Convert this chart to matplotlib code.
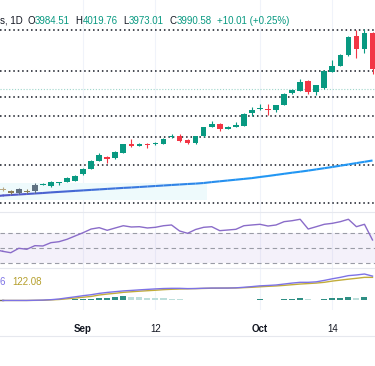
import matplotlib
matplotlib.use("Agg")
import matplotlib.pyplot as plt
import numpy as np
from matplotlib.collections import LineCollection
from matplotlib.patches import Rectangle
from matplotlib.lines import Line2D
from matplotlib.colors import to_rgb

plt.rcParams['font.family'] = ['Liberation Sans', 'DejaVu Sans']

W, H = 375, 366

# ==================== data ====================
opens = [3940.3, 3938.6, 3938.6, 3939.0, 3939.9, 3942.8, 3942.2, 3943.8, 3944.4, 3944.9,
         3948.1, 3950.7, 3954.9, 3956.6, 3956.1, 3958.9, 3963.1, 3962.4, 3963.4, 3963.1,
         3963.4, 3966.6, 3967.4, 3965.1, 3963.6, 3967.0, 3971.9, 3973.1, 3970.7, 3971.9,
         3972.3, 3978.6, 3980.5, 3980.7, 3980.1, 3982.7, 3988.6, 3989.9, 3994.7, 3989.4,
         3991.1, 3999.4, 4002.2, 4007.5, 4017.2, 4010.6, 4018.7]
highs = [3941.7, 3940.2, 3941.0, 3940.7, 3943.5, 3943.5, 3944.7, 3944.2, 3946.5, 3947.7,
         3951.0, 3955.2, 3958.6, 3957.0, 3959.7, 3963.2, 3965.6, 3963.7, 3963.7, 3964.0,
         3966.0, 3968.2, 3968.0, 3965.5, 3967.2, 3971.7, 3974.7, 3973.5, 3972.2, 3974.4,
         3978.5, 3981.5, 3983.1, 3983.1, 3982.7, 3988.5, 3990.7, 3995.6, 3995.0, 3992.7,
         4000.2, 4005.2, 4008.0, 4017.2, 4020.2, 4020.6, 4019.0]
lows = [3939.7, 3938.2, 3938.2, 3938.7, 3938.7, 3942.5, 3941.7, 3942.7, 3944.0, 3944.5,
        3947.7, 3950.5, 3954.7, 3953.6, 3955.7, 3958.7, 3961.7, 3962.0, 3961.4, 3962.7,
        3963.2, 3966.2, 3964.2, 3963.1, 3963.2, 3966.7, 3971.6, 3969.7, 3970.5, 3971.6,
        3972.0, 3977.2, 3980.2, 3977.7, 3979.4, 3982.5, 3988.2, 3989.7, 3988.2, 3987.7,
        3990.7, 3999.2, 4002.0, 4007.2, 4006.0, 4008.6, 3998.2]
closes = [3940.7, 3939.7, 3940.6, 3939.9, 3942.7, 3943.2, 3944.2, 3944.2, 3946.1, 3947.2,
          3950.6, 3954.9, 3957.7, 3955.9, 3959.4, 3963.1, 3962.2, 3963.4, 3962.7, 3963.7,
          3965.7, 3967.2, 3964.6, 3963.9, 3967.0, 3971.5, 3973.1, 3970.6, 3971.9, 3972.7,
          3978.2, 3980.2, 3980.7, 3980.0, 3982.5, 3988.1, 3990.2, 3994.4, 3989.4, 3992.6,
          3999.9, 4002.2, 4007.7, 4016.9, 4010.6, 4018.7, 4000.7]

ma_values = [3937.45, 3937.7, 3937.95, 3938.2, 3938.45, 3938.7, 3939.0, 3939.25, 3939.5, 3939.75,
             3940.0, 3940.25, 3940.5, 3940.75, 3941.0, 3941.25, 3941.45, 3941.7, 3941.95, 3942.2,
             3942.45, 3942.7, 3942.95, 3943.2, 3943.4, 3943.7, 3944.15, 3944.55, 3944.95, 3945.35,
             3945.75, 3946.15, 3946.7, 3947.2, 3947.75, 3948.3, 3948.85, 3949.35, 3949.9, 3950.5,
             3951.1, 3951.7, 3952.35, 3953.0, 3953.65, 3954.3, 3954.95]

rsi_values = [45.6, 43.7, 49.6, 48.3, 53.1, 52.7, 57.1, 58.4, 61.6, 66.0,
              70.4, 75.3, 77.1, 73.6, 76.7, 79.7, 78.0, 78.4, 76.7, 77.6,
              79.7, 80.7, 72.7, 69.6, 74.7, 77.6, 78.4, 73.1, 74.0, 74.9,
              79.7, 80.7, 81.6, 79.3, 80.7, 85.1, 86.4, 88.3, 75.3, 78.4,
              81.6, 82.9, 85.1, 88.3, 78.4, 81.6, 60.7]

macd_values = [0, 0, 0, 0, 1, 2, 4, 7.5, 13.5, 19,
               25, 30, 37, 42, 46, 50, 52.5, 55.5, 58, 60.5,
               62.5, 63.5, 63.5, 62, 62.5, 64, 65, 65, 65, 66,
               69, 72.5, 76.5, 78.5, 81, 86, 91, 95, 95, 97.5,
               105, 113.5, 121, 130, 133.5, 138.5, 127.5]
signal_values = [0, 0, 0, 0, 0.5, 1, 3, 5, 8.5, 12.5,
                 17, 21, 28.5, 33.5, 37.5, 42.5, 45.5, 48.5, 51, 53.5,
                 56.5, 58.5, 60, 61, 62, 63, 64, 64.5, 65, 65.5,
                 67, 69, 71.5, 74, 76, 79, 82.5, 86, 88.5, 91,
                 95, 101.5, 106.5, 111.5, 116, 121, 121]
hist_values = [0, 0, 0, 0, 0, 0, 0, 0, 5, 6.5,
               8.5, 10, 11.5, 13.5, 17.5, 22.5, 20, 17.5, 15, 13.5,
               11.5, 10, 6.5, 3, 2.5, 4, 5, 2.5, 1.5, 1.5,
               4, 5, 6, 4, 3, 6.5, 8.5, 11.5, 6.5, 5,
               9, 11, 14, 20, 15, 18.5, 5]

levels = [4020.2, 3999.7, 3986.7, 3977.2, 3966.7, 3952.7, 3933.7]
last_close = 3990.58
box_start, box_end = -0.4, 25.4
box_low, box_high = 3935.2, 3943.7

tick_pos = [10, 19, 32, 41]
tick_labels = ["Sep", "12", "Oct", "14"]

header_parts = [("s, 1D", "#131722"), ("O", "#131722"), ("3984.51", "#089981"),
                ("H", "#131722"), ("4019.76", "#089981"), ("L", "#131722"),
                ("3973.01", "#089981"), ("C", "#131722"), ("3990.58", "#089981"),
                ("+10.01 (+0.25%)", "#089981")]
header_x = [0, 27.3, 34.3, 75.5, 82.8, 123.0, 128.5, 169.5, 176.5, 217.3]

# ==================== style ====================
UP = "#089981"
DOWN = "#f23645"
faded = {0: "#b7a783", 1: "#8c7d55", 2: "#5f6e7e", 3: "#8a8256", 4: "#607182"}
GRID = "#f0f3fa"
SEP = "#e6e8ee"

n = len(closes)
idx = np.arange(n)
xlim = (-0.336, 46.31)


def pane(top_px, bottom_px):
    ax = fig.add_axes([0, 1 - bottom_px / H, 1, (bottom_px - top_px) / H])
    ax.set_xlim(*xlim)
    for s in ax.spines.values():
        s.set_visible(False)
    ax.set_yticks([])
    ax.set_xticks([])
    ax.set_facecolor("none")
    for t in tick_pos:
        ax.axvline(t, color=GRID, lw=0.8, zorder=0)
    return ax


fig = plt.figure(figsize=(W / 100, H / 100), dpi=100)
fig.patch.set_facecolor("white")

# -------------------- main pane --------------------
ax = pane(0, 212)
ax.set_ylim(3929.2, 4035.2)

ax.add_patch(Rectangle((box_start, box_low), box_end - box_start, box_high - box_low,
                       facecolor="#eefafc", edgecolor="none", zorder=1))

for lv in levels:
    ax.axhline(lv, color="#131722", lw=1.1, ls=(0, (1, 1.9)), zorder=2)
ax.axhline(last_close, color="#9fd6cb", lw=0.8, ls=(0, (1, 1.6)), zorder=2)

# moving average, colour fades from indigo to blue
pts = np.column_stack([idx, ma_values])
segs = np.stack([pts[:-1], pts[1:]], axis=1)
c0, c1 = np.array(to_rgb("#5257c9")), np.array(to_rgb("#2196f3"))
frac = np.clip(idx[:-1] / 30.0, 0, 1)
seg_colors = [tuple(c0 + (c1 - c0) * f) for f in frac]
ax.add_collection(LineCollection(segs, colors=seg_colors, linewidths=1.5, zorder=3))
ax.plot([xlim[0], 0], [ma_values[0] - 0.15, ma_values[0]], color="#5257c9", lw=1.5, zorder=3)

for i in range(n):
    o, h, l, c = opens[i], highs[i], lows[i], closes[i]
    col = faded.get(i, UP if c >= o else DOWN)
    ax.vlines(i, l, h, color=col, lw=0.8, zorder=4)
    body = max(abs(c - o), 0.5)
    ax.bar(i, body, bottom=min(o, c), width=0.7, color=col, zorder=5)

# header
for (txt, col), x in zip(header_parts, header_x):
    fig.text(x / W, 1 - 20.7 / H, txt, color=col, fontsize=7, va="center", ha="left")

# -------------------- RSI pane --------------------
ax_rsi = pane(212, 268)
ax_rsi.set_ylim(23.33, 98)
ax_rsi.axhspan(30, 70, color="#7e57c2", alpha=0.08, lw=0, zorder=0)
for lv in (70, 50, 30):
    ax_rsi.axhline(lv, color="#9a9ca6", lw=0.8, ls=(0, (4, 3)), zorder=1)
ax_rsi.plot(idx, rsi_values, color="#8a6cc9", lw=1.0, zorder=3)
ax_rsi.plot([xlim[0], 0], [rsi_values[0] + 0.8, rsi_values[0]], color="#8a6cc9", lw=1.0)

# -------------------- MACD pane --------------------
ax_m = pane(268, 310)
ax_m.set_ylim(-50, 170)
prev = [0] + hist_values[:-1]
hist_cols = ["#2f8f84" if v > p else "#bddfdb" for v, p in zip(hist_values, prev)]
ax_m.bar(idx, hist_values, width=0.75, color=hist_cols, zorder=1)
ax_m.plot(idx, macd_values, color="#7d72e6", lw=1.0, zorder=3)
ax_m.plot(idx, signal_values, color="#c2ad3a", lw=1.0, zorder=2)
ax_m.plot([xlim[0], 0], [0, 0], color="#6f6a5a", lw=1.0, zorder=2)

fig.text(0 / W, 1 - 281.7 / H, "6", color="#7d72e6", fontsize=7, va="center", ha="left")
fig.text(12 / W, 1 - 281.7 / H, "122.08", color="#b59f2c", fontsize=7, va="center", ha="left")

# x axis labels
ax_m.set_xticks(tick_pos)
ax_m.set_xticklabels(tick_labels)
ax_m.tick_params(axis="x", length=0, pad=10, labelsize=7, labelcolor="#131722")
for lab in ax_m.get_xticklabels():
    if lab.get_text() in ("Sep", "Oct"):
        lab.set_fontweight("bold")

# pane separators
for y in (212, 268, 336):
    fig.add_artist(Line2D([0, 1], [1 - y / H, 1 - y / H], color=SEP, lw=0.8))

fig.savefig("out.png", dpi=100)
